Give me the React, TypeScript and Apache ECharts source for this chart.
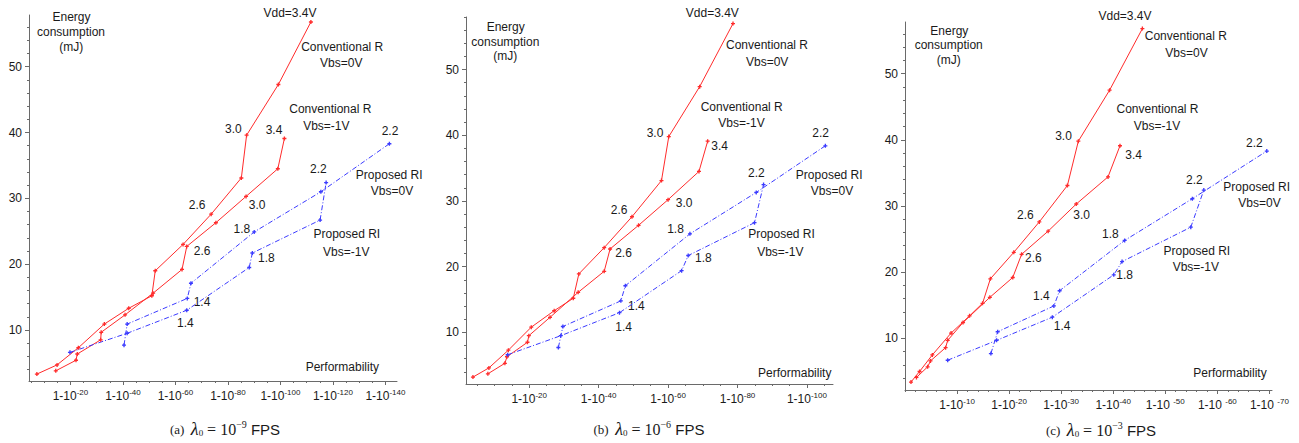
import React, { useEffect, useRef } from "react";
import * as echarts from "echarts";

// x value n means performability 1 - 10^-n ; y = energy consumption (mJ)
// ---------- panel (a) lambda0 = 1e-9 FPS ----------
const convR_vbs0_a = [[7.2,3.3],[14.9,4.7],[23.0,7.3],[32.9,10.9],[42.2,13.3],[51.0,15.2],[52.3,19.0],[62.9,23.0],[73.6,27.6],[85.1,33.1],[87.1,39.6],[99.2,47.3],[111.6,56.8]];
const convR_vbs1_a = [[14.4,3.8],[22.1,5.4],[22.6,6.35],[31.5,8.5],[31.7,9.65],[40.8,12.3],[51.5,15.6],[62.5,19.2],[64.3,22.7],[75.4,26.3],[86.9,30.3],[99.0,34.5],[101.5,39.1]];
const propRI_vbs1_a = [[19.8,6.6],[41.6,9.5],[64.3,13.0],[88.1,19.5],[89.3,21.7],[115.1,26.7],[117.4,32.4]];
const propRI_vbs0_a = [[40.4,7.7],[41.6,10.9],[64.5,14.8],[65.9,17.1],[90.0,24.9],[115.4,31.0],[141.5,38.3]];
// ---------- panel (b) lambda0 = 1e-6 FPS ----------
const convR_vbs0_b = [[3.8,3.2],[8.4,4.6],[14.0,7.3],[20.6,10.8],[27.2,13.3],[32.7,15.2],[34.3,18.9],[41.6,22.9],[49.6,27.6],[58.1,33.1],[60.2,39.8],[69.1,47.4],[78.7,57.0]];
const convR_vbs1_b = [[8.1,3.7],[13.0,5.3],[13.6,6.3],[19.5,8.5],[19.9,9.5],[26.0,12.3],[34.1,16.1],[41.6,19.3],[43.3,22.7],[51.5,26.3],[60.0,30.2],[68.9,34.5],[71.4,39.1]];
const propRI_vbs1_b = [[13.8,6.6],[29.1,9.5],[46.0,13.0],[63.9,19.4],[65.8,21.7],[84.9,26.7],[87.5,32.5]];
const propRI_vbs0_b = [[28.4,7.7],[29.7,10.9],[46.4,14.8],[47.7,17.1],[66.3,25.0],[85.4,31.3],[105.3,38.4]];
// ---------- panel (c) lambda0 = 1e-3 FPS ----------
const convR_vbs0_c = [[1.15,3.4],[2.8,5.0],[5.25,7.5],[8.85,10.8],[12.4,13.4],[14.9,15.3],[16.4,19.0],[20.9,23.0],[25.8,27.6],[31.2,33.1],[33.3,39.8],[39.3,47.5],[45.6,56.8]];
const convR_vbs1_c = [[2.2,4.1],[4.35,5.7],[4.9,6.6],[7.8,8.6],[8.2,9.7],[11.15,12.4],[16.3,16.2],[20.7,19.2],[22.4,22.7],[27.5,26.2],[32.9,30.3],[39.0,34.4],[41.3,39.1]];
const propRI_vbs1_c = [[8.2,6.7],[17.6,9.7],[28.3,13.2],[40.1,19.6],[41.7,21.6],[54.9,26.8],[57.4,32.4]];
const propRI_vbs0_c = [[16.5,7.7],[17.8,11.0],[28.6,14.9],[29.7,17.2],[42.2,24.8],[55.2,31.1],[69.5,38.3]];

const yTickLabels = [10, 20, 30, 40, 50];
const xTicks_a = [20, 40, 60, 80, 100, 120, 140];
const xTicks_b = [20, 40, 60, 80, 100];
const xTicks_c = [10, 20, 30, 40, 50, 60, 70];

const AX = "#6a6a6a";
const TXT = "#1a1a1a";
const RED = "#ff2b2b";
const BLUE = "#3b3bff";
const SANS = "'Liberation Sans', Arial, Helvetica, sans-serif";
const SERIF = "'Liberation Serif', 'Times New Roman', serif";
const PLUS = "path://M2,0H4V2H6V4H4V6H2V4H0V2H2Z";

type Panel = {
  grid: number[];
  xMin: number; xMax: number; yMin: number; yMax: number;
  xTicks: number[]; xMinorStep: number; spaced: number;
  series: { data: number[][]; blue: boolean }[];
};

const panels: Panel[] = [
  { grid: [29, 15, 368, 366], xMin: 4.2, xMax: 144.4, yMin: 2.25, yMax: 57.86, xTicks: xTicks_a, xMinorStep: 5, spaced: 1000,
    series: [{ data: convR_vbs0_a, blue: false }, { data: convR_vbs1_a, blue: false }, { data: propRI_vbs1_a, blue: true }, { data: propRI_vbs0_a, blue: true }] },
  { grid: [466, 17, 367, 367], xMin: 1.8, xMax: 107.5, yMin: 2.15, yMax: 58.0, xTicks: xTicks_b, xMinorStep: 5, spaced: 1000,
    series: [{ data: convR_vbs0_b, blue: false }, { data: convR_vbs1_b, blue: false }, { data: propRI_vbs1_b, blue: true }, { data: propRI_vbs0_b, blue: true }] },
  { grid: [905, 22, 367, 368], xMin: 0, xMax: 70.5, yMin: 2.2, yMax: 57.8, xTicks: xTicks_c, xMinorStep: 2, spaced: 50,
    series: [{ data: convR_vbs0_c, blue: false }, { data: convR_vbs1_c, blue: false }, { data: propRI_vbs1_c, blue: true }, { data: propRI_vbs0_c, blue: true }] },
];

// annotation texts: [text, centerX, centerY]
const notes: [string, number, number][] = [
  ["Energy", 71.5, 16.7], ["consumption", 71, 32.3], ["(mJ)", 71.3, 46.7],
  ["Vdd=3.4V", 290, 12.7], ["Conventional R", 342.2, 46.7], ["Vbs=0V", 341.3, 62.7],
  ["Conventional R", 330.3, 109], ["Vbs=-1V", 326.3, 126],
  ["3.0", 233.3, 129.3], ["3.4", 274, 130], ["2.2", 390, 131], ["2.2", 318.3, 169.3],
  ["Proposed RI", 389.2, 175], ["Vbs=0V", 392, 191], ["3.0", 257.2, 205], ["2.6", 197.2, 205],
  ["2.6", 202.2, 251], ["1.4", 202, 301.7], ["1.4", 185.3, 323.3],
  ["1.8", 241.8, 229.3], ["1.8", 266.3, 258.3], ["Proposed RI", 346.8, 234], ["Vbs=-1V", 346.2, 251.7],
  ["Performability", 342.3, 366.7],

  ["Energy", 505.7, 26.7], ["consumption", 505.3, 41.7], ["(mJ)", 505.3, 56],
  ["Vdd=3.4V", 712.3, 12.7], ["Conventional R", 767, 45], ["Vbs=0V", 767.2, 61.7],
  ["Conventional R", 741.7, 106.7], ["Vbs=-1V", 741.5, 123.3],
  ["3.0", 655, 133.3], ["3.4", 719.7, 146], ["2.2", 820.7, 132.7], ["2.2", 756.3, 173.3],
  ["Proposed RI", 829.2, 175], ["Vbs=0V", 832, 191], ["3.0", 684.2, 203.3], ["2.6", 619.2, 210],
  ["2.6", 623.5, 252.7], ["1.4", 636.3, 306], ["1.4", 623.7, 326.7],
  ["1.8", 675.5, 229.3], ["1.8", 703.3, 258.3], ["Proposed RI", 781.5, 234.3], ["Vbs=-1V", 780.3, 251.7],
  ["Performability", 794.7, 372.7],

  ["Energy", 949.3, 30.7], ["consumption", 948.7, 45], ["(mJ)", 948.7, 60],
  ["Vdd=3.4V", 1125, 16], ["Conventional R", 1185.8, 36], ["Vbs=0V", 1186.5, 52.7],
  ["Conventional R", 1157.5, 109], ["Vbs=-1V", 1157, 126],
  ["3.0", 1063.5, 136], ["3.4", 1133.7, 155], ["2.2", 1254.3, 143.3], ["2.2", 1194.3, 180],
  ["Proposed RI", 1256.7, 186.7], ["Vbs=0V", 1259.5, 202.7], ["3.0", 1081.7, 215], ["2.6", 1025.3, 215],
  ["2.6", 1033.3, 258.3], ["1.4", 1041.3, 295.7], ["1.4", 1062.2, 326],
  ["1.8", 1110.3, 234.3], ["1.8", 1124.7, 275], ["Proposed RI", 1196.8, 250.7], ["Vbs=-1V", 1195.8, 266.7],
  ["Performability", 1230, 373.3],
];

const captions: [string, string, number, number][] = [
  ["(a)", "\u22129", 225, 429],
  ["(b)", "\u22126", 649, 429],
  ["(c)", "\u22123", 1101, 430],
];

function range(min: number, max: number, step: number, skip: number[]) {
  const out: number[] = [];
  for (let v = Math.ceil(min / step) * step; v <= max + 1e-9; v += step) {
    const r = Math.round(v * 1000) / 1000;
    if (!skip.some((s) => Math.abs(s - r) < 1e-6)) out.push(r);
  }
  return out;
}

function buildOption() {
  const grid: any[] = [];
  const xAxis: any[] = [];
  const yAxis: any[] = [];
  const series: any[] = [];
  panels.forEach((p, i) => {
    grid.push({ left: p.grid[0], top: p.grid[1], width: p.grid[2], height: p.grid[3], containLabel: false });
    const xMinor = range(p.xMin, p.xMax, p.xMinorStep, p.xTicks);
    const yMinor = range(p.yMin, p.yMax, 2, yTickLabels);
    xAxis.push({
      type: "value", gridIndex: i, position: "bottom", min: p.xMin, max: p.xMax,
      axisLine: { show: true, lineStyle: { color: AX, width: 1 } },
      axisTick: { show: true, length: 4, customValues: p.xTicks, lineStyle: { color: AX } },
      axisLabel: {
        customValues: p.xTicks, margin: 7, color: TXT,
        formatter: (v: number) => (v >= p.spaced ? `{b|1-10 }{s|-${v}}` : `{b|1-10}{s|-${v}}`),
        rich: {
          b: { fontSize: 12, fontFamily: SANS, color: TXT },
          s: { fontSize: 8, fontFamily: SANS, color: TXT, padding: [0, 0, 7, 0] },
        },
      },
      splitLine: { show: false },
    });
    xAxis.push({
      type: "value", gridIndex: i, position: "bottom", offset: 0, min: p.xMin, max: p.xMax,
      axisLine: { show: false },
      axisTick: { show: true, length: 2, customValues: xMinor, lineStyle: { color: AX } },
      axisLabel: { show: false }, splitLine: { show: false },
    });
    yAxis.push({
      type: "value", gridIndex: i, position: "left", min: p.yMin, max: p.yMax,
      axisLine: { show: true, lineStyle: { color: AX, width: 1 } },
      axisTick: { show: true, length: 4, customValues: yTickLabels, lineStyle: { color: AX } },
      axisLabel: { customValues: yTickLabels, margin: 7, color: TXT, fontSize: 12, fontFamily: SANS },
      splitLine: { show: false },
    });
    yAxis.push({
      type: "value", gridIndex: i, position: "left", offset: 0, min: p.yMin, max: p.yMax,
      axisLine: { show: false },
      axisTick: { show: true, length: 2, customValues: yMinor, lineStyle: { color: AX } },
      axisLabel: { show: false }, splitLine: { show: false },
    });
    p.series.forEach((s) => {
      const color = s.blue ? BLUE : RED;
      series.push({
        type: "line", xAxisIndex: 2 * i, yAxisIndex: 2 * i, data: s.data,
        symbol: PLUS, symbolSize: 4, showSymbol: true, silent: true,
        lineStyle: { color, width: 1, type: s.blue ? [5, 2, 1, 2] : "solid" },
        itemStyle: { color },
      });
    });
  });

  const graphic: any[] = notes.map(([t, x, y]) => ({
    type: "text", x, y, silent: true,
    style: { text: t, fill: TXT, font: `12px ${SANS}`, align: "center", verticalAlign: "middle" },
  }));
  captions.forEach(([lab, exp, x, y]) => {
    graphic.push({
      type: "text", x, y, silent: true,
      style: {
        text: `{p|${lab}}{g|  }{l|\u03bb}{sub|0}{e| = 10}{sup|${exp}}{f| FPS}`,
        align: "center", verticalAlign: "middle", fill: TXT,
        rich: {
          p: { fontFamily: SERIF, fontSize: 13, fill: TXT },
          g: { fontFamily: SERIF, fontSize: 13 },
          l: { fontFamily: SERIF, fontStyle: "italic", fontSize: 18, fill: TXT },
          sub: { fontFamily: SERIF, fontSize: 9, fill: TXT, padding: [8, 0, 0, 0] },
          e: { fontFamily: SERIF, fontSize: 16, fill: TXT },
          sup: { fontFamily: SERIF, fontSize: 10, fill: TXT, padding: [0, 0, 10, 0] },
          f: { fontFamily: SANS, fontSize: 15, fill: TXT },
        },
      },
    });
  });

  return { animation: false, backgroundColor: "#ffffff", grid, xAxis, yAxis, series, graphic };
}

export default function App() {
  const ref = useRef<HTMLDivElement>(null);
  useEffect(() => {
    document.body.style.margin = "0";
    if (!ref.current) return;
    const chart = echarts.init(ref.current, undefined, { renderer: "svg" });
    chart.setOption(buildOption() as any);
    return () => chart.dispose();
  }, []);
  return <div ref={ref} style={{ width: 1299, height: 443, background: "#fff" }} />;
}
